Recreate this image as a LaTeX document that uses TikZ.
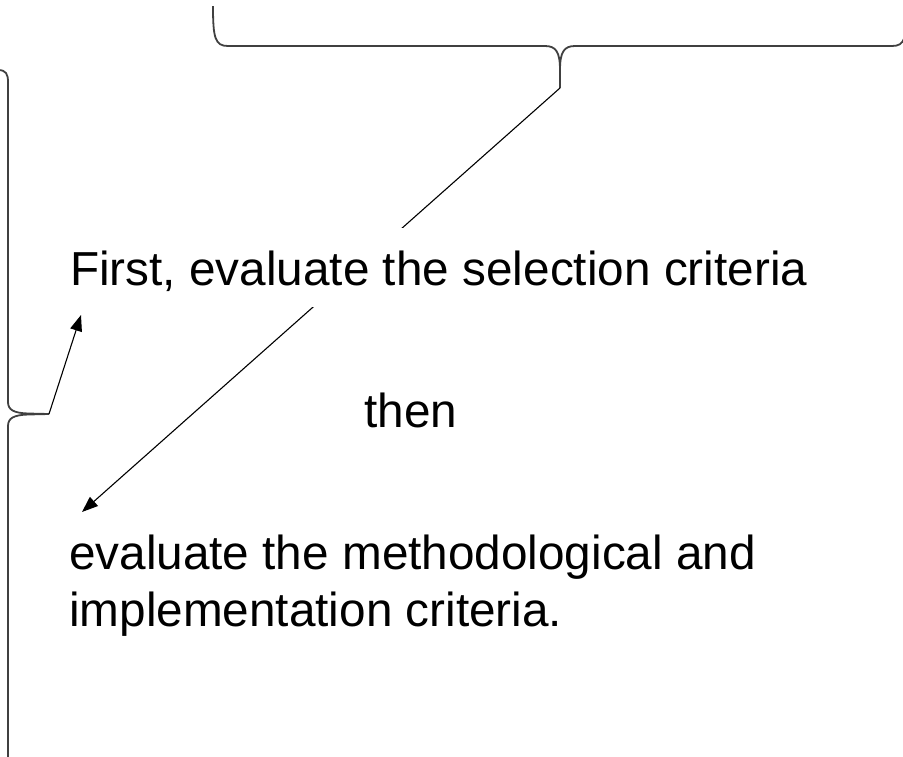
\documentclass[tikz,border=0pt]{standalone}
\usepackage{fontspec}
\setmainfont{Liberation Sans}
\usetikzlibrary{arrows.meta}
\begin{document}
\begin{tikzpicture}[x=1pt,y=-1pt,
  brace/.style={draw=black!75, line width=1.8pt},
  conn/.style={draw=black, line width=1.1pt},
  arr/.style={conn, -{Triangle[length=16pt,width=12pt]}},
  lbl/.style={font=\fontsize{47.7}{57}\selectfont, inner sep=0pt}]
\useasboundingbox (0,0) rectangle (903,756);
\clip (0,0) rectangle (903,756);
% braces
\coordinate (ttip) at (560,88);
\coordinate (ltip) at (49,414);
\draw[brace] (213,6) .. controls (213,38) and (215,46) .. (228,46) -- (545,46)
  .. controls (556,46) and (560,52) .. (560,70) -- (ttip) -- (560,70)
  .. controls (560,52) and (564,46) .. (575,46) -- (892,46)
  .. controls (905,46) and (907,38) .. (907,6);
\draw[brace] (-2,70) .. controls (6,70) and (8,74) .. (8,82) -- (8,402)
  .. controls (8,410) and (14,413) .. (28,413.5) -- (ltip) -- (28,414.5)
  .. controls (14,415) and (8,418) .. (8,426) -- (8,760);
% connectors
\coordinate (a1) at (81,315);
\coordinate (a2) at (82,512);
\draw[arr] (ttip) -- (a2);
\node[lbl, fill=white, anchor=base west, text height=57pt, text depth=22pt, inner xsep=6pt] (first) at (64,285) {First, evaluate the selection criteria};
\draw[arr] (ltip) -- (a1);
\node[lbl, anchor=base] (then) at (411,427) {then};
\node[lbl, anchor=base west] (eval1) at (69,569) {evaluate the methodological and};
\node[lbl, anchor=base west] (eval2) at (69,626) {implementation criteria.};
\end{tikzpicture}
\end{document}
